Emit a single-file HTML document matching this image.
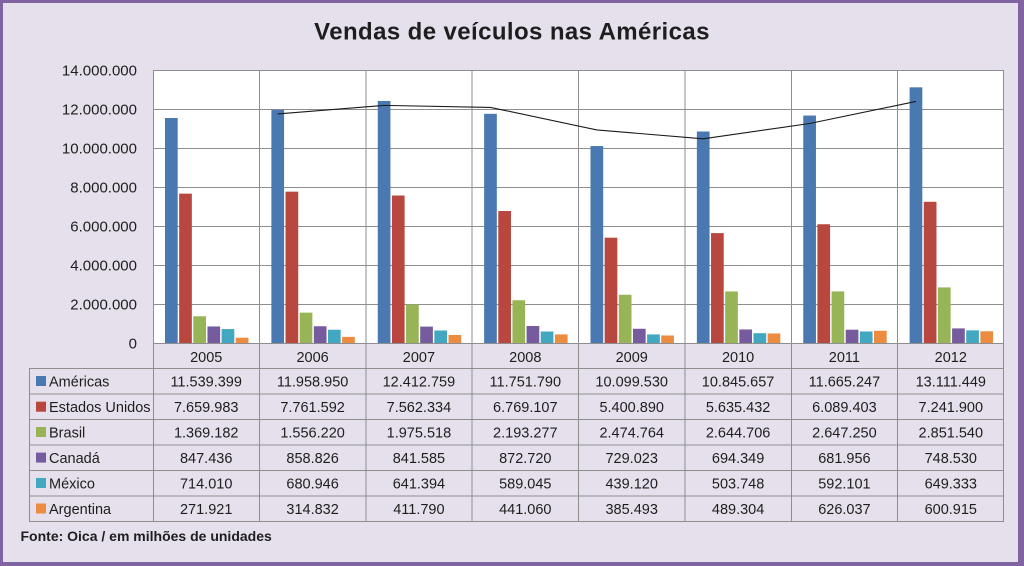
<!DOCTYPE html>
<html><head><meta charset="utf-8"><style>
html,body{margin:0;padding:0;width:1024px;height:566px;overflow:hidden;background:#8064a2}
svg{display:block}
text{font-family:"Liberation Sans",sans-serif;fill:#1e1e1e}
</style></head><body>
<svg width="1024" height="566" viewBox="0 0 1024 566" xmlns="http://www.w3.org/2000/svg">
<rect x="0" y="0" width="1024" height="566" fill="#8064a2"/>
<rect x="3" y="3" width="1015" height="559" fill="#e6e0ec"/>
<text x="512" y="39.5" text-anchor="middle" font-size="24" font-weight="bold" letter-spacing="0.4">Vendas de veículos nas Américas</text>
<rect x="153" y="70" width="851" height="273" fill="#ffffff"/>
<g stroke="#8e8e8e" stroke-width="1" fill="none">
<line x1="153" y1="70.5" x2="1004" y2="70.5"/>
<line x1="153" y1="109.5" x2="1004" y2="109.5"/>
<line x1="153" y1="148.5" x2="1004" y2="148.5"/>
<line x1="153" y1="187.5" x2="1004" y2="187.5"/>
<line x1="153" y1="226.5" x2="1004" y2="226.5"/>
<line x1="153" y1="265.5" x2="1004" y2="265.5"/>
<line x1="153" y1="304.5" x2="1004" y2="304.5"/>
<line x1="153" y1="343.5" x2="1004" y2="343.5"/>
<line x1="29" y1="368.5" x2="1004" y2="368.5"/>
<line x1="29" y1="394" x2="1004" y2="394"/>
<line x1="29" y1="419.5" x2="1004" y2="419.5"/>
<line x1="29" y1="445" x2="1004" y2="445"/>
<line x1="29" y1="470.5" x2="1004" y2="470.5"/>
<line x1="29" y1="496" x2="1004" y2="496"/>
<line x1="29" y1="521.5" x2="1004" y2="521.5"/>
<line x1="29.5" y1="368.5" x2="29.5" y2="521.5"/>
<line x1="153.5" y1="70" x2="153.5" y2="521.5"/>
<line x1="259.5" y1="70" x2="259.5" y2="521.5"/>
<line x1="366" y1="70" x2="366" y2="521.5"/>
<line x1="472" y1="70" x2="472" y2="521.5"/>
<line x1="578.5" y1="70" x2="578.5" y2="521.5"/>
<line x1="685" y1="70" x2="685" y2="521.5"/>
<line x1="791.5" y1="70" x2="791.5" y2="521.5"/>
<line x1="897.5" y1="70" x2="897.5" y2="521.5"/>
<line x1="1003.5" y1="70" x2="1003.5" y2="521.5"/>
</g>
<g font-size="15" text-anchor="end">
<text x="137" y="75.5">14.000.000</text>
<text x="137" y="114.5">12.000.000</text>
<text x="137" y="153.5">10.000.000</text>
<text x="137" y="192.5">8.000.000</text>
<text x="137" y="231.5">6.000.000</text>
<text x="137" y="270.5">4.000.000</text>
<text x="137" y="309.5">2.000.000</text>
<text x="137" y="348.5">0</text>
</g>
<!-- bars -->
<g>
<g transform="translate(153,0)">
<rect x="12" y="117.98" width="12.7" height="225.02" fill="#4a78b0"/>
<rect x="26.15" y="193.63" width="12.7" height="149.37" fill="#b8473f"/>
<rect x="40.3" y="316.30" width="12.7" height="26.70" fill="#97b556"/>
<rect x="54.45" y="326.47" width="12.7" height="16.53" fill="#765c9e"/>
<rect x="68.6" y="329.08" width="12.7" height="13.92" fill="#42a7c1"/>
<rect x="82.75" y="337.70" width="12.7" height="5.30" fill="#eb8c40"/>
</g>
<g transform="translate(259.375,0)">
<rect x="12" y="109.80" width="12.7" height="233.20" fill="#4a78b0"/>
<rect x="26.15" y="191.65" width="12.7" height="151.35" fill="#b8473f"/>
<rect x="40.3" y="312.65" width="12.7" height="30.35" fill="#97b556"/>
<rect x="54.45" y="326.25" width="12.7" height="16.75" fill="#765c9e"/>
<rect x="68.6" y="329.72" width="12.7" height="13.28" fill="#42a7c1"/>
<rect x="82.75" y="336.86" width="12.7" height="6.14" fill="#eb8c40"/>
</g>
<g transform="translate(365.75,0)">
<rect x="12" y="100.95" width="12.7" height="242.05" fill="#4a78b0"/>
<rect x="26.15" y="195.53" width="12.7" height="147.47" fill="#b8473f"/>
<rect x="40.3" y="304.48" width="12.7" height="38.52" fill="#97b556"/>
<rect x="54.45" y="326.59" width="12.7" height="16.41" fill="#765c9e"/>
<rect x="68.6" y="330.49" width="12.7" height="12.51" fill="#42a7c1"/>
<rect x="82.75" y="334.97" width="12.7" height="8.03" fill="#eb8c40"/>
</g>
<g transform="translate(472.125,0)">
<rect x="12" y="113.84" width="12.7" height="229.16" fill="#4a78b0"/>
<rect x="26.15" y="211.00" width="12.7" height="132.00" fill="#b8473f"/>
<rect x="40.3" y="300.23" width="12.7" height="42.77" fill="#97b556"/>
<rect x="54.45" y="325.98" width="12.7" height="17.02" fill="#765c9e"/>
<rect x="68.6" y="331.51" width="12.7" height="11.49" fill="#42a7c1"/>
<rect x="82.75" y="334.40" width="12.7" height="8.60" fill="#eb8c40"/>
</g>
<g transform="translate(578.5,0)">
<rect x="12" y="146.06" width="12.7" height="196.94" fill="#4a78b0"/>
<rect x="26.15" y="237.68" width="12.7" height="105.32" fill="#b8473f"/>
<rect x="40.3" y="294.74" width="12.7" height="48.26" fill="#97b556"/>
<rect x="54.45" y="328.78" width="12.7" height="14.22" fill="#765c9e"/>
<rect x="68.6" y="334.44" width="12.7" height="8.56" fill="#42a7c1"/>
<rect x="82.75" y="335.48" width="12.7" height="7.52" fill="#eb8c40"/>
</g>
<g transform="translate(684.875,0)">
<rect x="12" y="131.51" width="12.7" height="211.49" fill="#4a78b0"/>
<rect x="26.15" y="233.11" width="12.7" height="109.89" fill="#b8473f"/>
<rect x="40.3" y="291.43" width="12.7" height="51.57" fill="#97b556"/>
<rect x="54.45" y="329.46" width="12.7" height="13.54" fill="#765c9e"/>
<rect x="68.6" y="333.18" width="12.7" height="9.82" fill="#42a7c1"/>
<rect x="82.75" y="333.46" width="12.7" height="9.54" fill="#eb8c40"/>
</g>
<g transform="translate(791.25,0)">
<rect x="12" y="115.53" width="12.7" height="227.47" fill="#4a78b0"/>
<rect x="26.15" y="224.26" width="12.7" height="118.74" fill="#b8473f"/>
<rect x="40.3" y="291.38" width="12.7" height="51.62" fill="#97b556"/>
<rect x="54.45" y="329.70" width="12.7" height="13.30" fill="#765c9e"/>
<rect x="68.6" y="331.45" width="12.7" height="11.55" fill="#42a7c1"/>
<rect x="82.75" y="330.79" width="12.7" height="12.21" fill="#eb8c40"/>
</g>
<g transform="translate(897.625,0)">
<rect x="12" y="87.33" width="12.7" height="255.67" fill="#4a78b0"/>
<rect x="26.15" y="201.78" width="12.7" height="141.22" fill="#b8473f"/>
<rect x="40.3" y="287.40" width="12.7" height="55.60" fill="#97b556"/>
<rect x="54.45" y="328.40" width="12.7" height="14.60" fill="#765c9e"/>
<rect x="68.6" y="330.34" width="12.7" height="12.66" fill="#42a7c1"/>
<rect x="82.75" y="331.28" width="12.7" height="11.72" fill="#eb8c40"/>
</g>
</g>
<polyline points="277.7,113.89 384.1,105.38 490.5,107.40 596.85,129.95 703.2,138.78 809.6,123.52 916.0,101.43" fill="none" stroke="#1a1a1a" stroke-width="1.1"/>
<!-- years -->
<g font-size="14.5" text-anchor="middle">
<text x="206.2" y="362">2005</text>
<text x="312.6" y="362">2006</text>
<text x="418.9" y="362">2007</text>
<text x="525.3" y="362">2008</text>
<text x="631.7" y="362">2009</text>
<text x="738.1" y="362">2010</text>
<text x="844.4" y="362">2011</text>
<text x="950.8" y="362">2012</text>
</g>
<!-- legend keys -->
<rect x="36" y="376" width="10" height="10" fill="#4a78b0"/>
<rect x="36" y="401.7" width="10" height="10" fill="#b8473f"/>
<rect x="36" y="427" width="10" height="10" fill="#97b556"/>
<rect x="36" y="452.6" width="10" height="10" fill="#765c9e"/>
<rect x="36" y="478" width="10" height="10" fill="#42a7c1"/>
<rect x="36" y="503.5" width="10" height="10" fill="#eb8c40"/>
<g font-size="14.5">
<text x="49" y="386.3">Américas</text>
<text x="49" y="412">Estados Unidos</text>
<text x="49" y="437.3">Brasil</text>
<text x="49" y="462.9">Canadá</text>
<text x="49" y="488.3">México</text>
<text x="49" y="513.8">Argentina</text>
</g>
<g font-size="14.5" text-anchor="middle">
<text x="206.2" y="386.3">11.539.399</text><text x="312.6" y="386.3">11.958.950</text><text x="418.9" y="386.3">12.412.759</text><text x="525.3" y="386.3">11.751.790</text><text x="631.7" y="386.3">10.099.530</text><text x="738.1" y="386.3">10.845.657</text><text x="844.4" y="386.3">11.665.247</text><text x="950.8" y="386.3">13.111.449</text>
<text x="206.2" y="412">7.659.983</text><text x="312.6" y="412">7.761.592</text><text x="418.9" y="412">7.562.334</text><text x="525.3" y="412">6.769.107</text><text x="631.7" y="412">5.400.890</text><text x="738.1" y="412">5.635.432</text><text x="844.4" y="412">6.089.403</text><text x="950.8" y="412">7.241.900</text>
<text x="206.2" y="437.3">1.369.182</text><text x="312.6" y="437.3">1.556.220</text><text x="418.9" y="437.3">1.975.518</text><text x="525.3" y="437.3">2.193.277</text><text x="631.7" y="437.3">2.474.764</text><text x="738.1" y="437.3">2.644.706</text><text x="844.4" y="437.3">2.647.250</text><text x="950.8" y="437.3">2.851.540</text>
<text x="206.2" y="462.9">847.436</text><text x="312.6" y="462.9">858.826</text><text x="418.9" y="462.9">841.585</text><text x="525.3" y="462.9">872.720</text><text x="631.7" y="462.9">729.023</text><text x="738.1" y="462.9">694.349</text><text x="844.4" y="462.9">681.956</text><text x="950.8" y="462.9">748.530</text>
<text x="206.2" y="488.3">714.010</text><text x="312.6" y="488.3">680.946</text><text x="418.9" y="488.3">641.394</text><text x="525.3" y="488.3">589.045</text><text x="631.7" y="488.3">439.120</text><text x="738.1" y="488.3">503.748</text><text x="844.4" y="488.3">592.101</text><text x="950.8" y="488.3">649.333</text>
<text x="206.2" y="513.8">271.921</text><text x="312.6" y="513.8">314.832</text><text x="418.9" y="513.8">411.790</text><text x="525.3" y="513.8">441.060</text><text x="631.7" y="513.8">385.493</text><text x="738.1" y="513.8">489.304</text><text x="844.4" y="513.8">626.037</text><text x="950.8" y="513.8">600.915</text>
</g>
<text x="20.5" y="541" font-size="14" font-weight="bold">Fonte: Oica / em milhões de unidades</text>
</svg>
</body></html>
